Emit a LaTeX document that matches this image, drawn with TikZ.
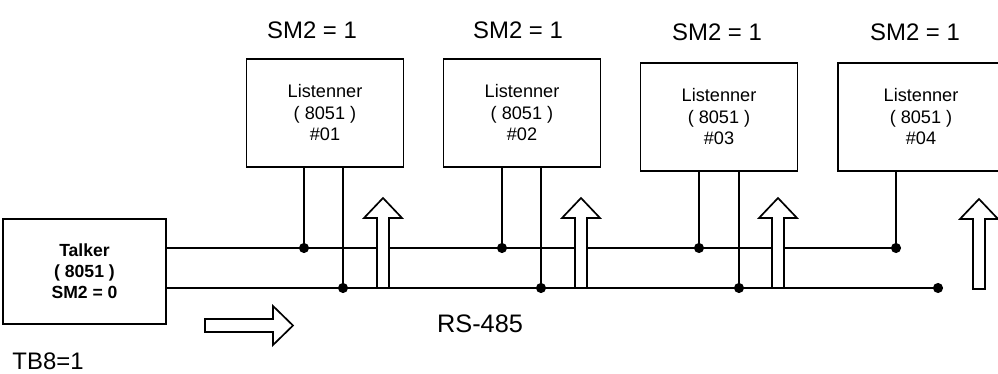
\documentclass[tikz,border=0pt]{standalone}
\usepackage{fontspec}
\setsansfont{Liberation Sans}

\begin{document}
\begin{tikzpicture}[
    x=0.025cm, y=-0.025cm,
    font=\sffamily,
    bus/.style={line width=1.2pt},
    unit/.style={draw, line width=1.2pt, fill=white, align=center, minimum width=3.925cm, minimum height=2.7cm, font=\sffamily\fontsize{12.9}{15.3}\selectfont},
    flag/.style={font=\sffamily\fontsize{17}{20}\selectfont},
    hollow/.style={draw, line width=1.2pt, fill=white, line join=miter},
    busarrow/.pic={\path[hollow] (-6,0) -- (-6,-70) -- (-19,-70) -- (0,-90) -- (19,-70) -- (6,-70) -- (6,0) -- cycle;}
]
\useasboundingbox (0,0) rectangle (998,374);

\node[unit, minimum width=4.075cm, minimum height=2.625cm, font=\sffamily\bfseries\fontsize{12.5}{15}\selectfont] (talker) at (84.5,271.5)
{Talker\\( 8051 )\\SM2 = 0};

\node[unit] (l1) at (325,113) {Listenner\\( 8051 )\\\#01};
\node[unit] (l2) at (522,113) {Listenner\\( 8051 )\\\#02};
\node[unit] (l3) at (719,117) {Listenner\\( 8051 )\\\#03};
\node[unit, minimum width=4.15cm] (l4) at (921,117) {Listenner\\( 8051 )\\\#04};

\node[flag] (sm1) at (312,30) {SM2 = 1};
\node[flag] (sm2) at (518,30) {SM2 = 1};
\node[flag] (sm3) at (717,32) {SM2 = 1};
\node[flag] (sm4) at (915,32) {SM2 = 1};

\node[flag, font=\sffamily\fontsize{18}{21}\selectfont] (rs) at (480,324) {RS-485};
\node[flag] (tb8) at (48,361) {TB8=1};

% tap points on the two bus wires
\coordinate (a1) at (304,248);
\coordinate (b1) at (343,288);
\coordinate (a2) at (502,248);
\coordinate (b2) at (541,288);
\coordinate (a3) at (699,248);
\coordinate (b3) at (739,288);
\coordinate (a4) at (896,248);
\coordinate (bend) at (938,288);

\draw[bus] (talker.east |- a1) -- (a4);
\draw[bus] (talker.east |- b1) -- (bend);

\draw[bus] (l1.south -| a1) -- (a1);
\draw[bus] (l1.south -| b1) -- (b1);
\draw[bus] (l2.south -| a2) -- (a2);
\draw[bus] (l2.south -| b2) -- (b2);
\draw[bus] (l3.south -| a3) -- (a3);
\draw[bus] (l3.south -| b3) -- (b3);
\draw[bus] (l4.south -| a4) -- (a4);

\fill (a1) circle (3.6pt);
\fill (b1) circle (3.6pt);
\fill (a2) circle (3.6pt);
\fill (b2) circle (3.6pt);
\fill (a3) circle (3.6pt);
\fill (b3) circle (3.6pt);
\fill (a4) circle (3.6pt);
\fill (bend) circle (3.6pt);

% hollow arrows
\pic at (383,288) {busarrow};
\pic at (581,288) {busarrow};
\pic at (778,288) {busarrow};
\pic at (979,289) {busarrow};

\path[hollow] (205,319) -- (273,319) -- (273,306) -- (293,325.5) -- (273,345) -- (273,332) -- (205,332) -- cycle;

\end{tikzpicture}
\end{document}
